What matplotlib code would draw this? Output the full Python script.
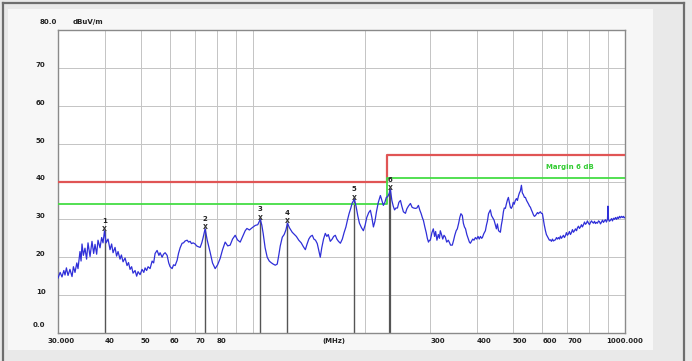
import matplotlib
matplotlib.use("Agg")
import matplotlib.pyplot as plt
from matplotlib.patches import Rectangle
from matplotlib.lines import Line2D
from matplotlib import transforms

# Measured field strength trace (MHz, dBuV/m)
freq_mhz = [
    30.0, 30.4, 30.75, 31.1, 31.33, 31.6, 31.92, 32.3, 32.72, 33.0,
    33.33, 33.7, 33.95, 34.37, 34.6, 34.8, 35.1, 35.45, 35.8, 36.12,
    36.57, 37.02, 37.4, 37.72, 38.1, 38.42, 38.9, 39.3, 39.63, 40.0,
    40.38, 40.88, 41.39, 41.8, 42.17, 42.69, 43.1, 43.49, 44.03, 44.4,
    44.86, 45.42, 45.98, 46.4, 46.85, 47.3, 47.72, 48.32, 48.8, 49.22,
    49.84, 50.46, 51.0, 51.41, 51.9, 52.37, 53.02, 53.69, 54.2, 54.69,
    55.37, 56.0, 56.41, 57.11, 57.6, 58.19, 58.91, 59.5, 60.01, 60.76,
    61.3, 61.9, 62.67, 63.2, 63.85, 64.63, 65.2, 65.84, 66.67, 67.3,
    67.92, 68.5, 69.19, 70.05, 70.7, 71.36, 72.26, 73.0, 73.61, 74.5,
    75.5, 76.87, 78.0, 79.29, 80.5, 81.79, 83.0, 84.36, 85.7, 87.0,
    88.3, 89.75, 91.0, 92.57, 94.0, 95.48, 96.5, 98.0, 99.7, 101.6,
    103.2, 104.8, 105.8, 106.7, 108.0, 109.4, 110.8, 112.0, 113.5, 115.0,
    116.4, 117.5, 118.6, 120.1, 121.5, 122.8, 124.0, 125.5, 127.7, 129.5,
    131.0, 133.0, 135.0, 136.8, 138.5, 140.0, 141.5, 143.0, 144.6, 146.0,
    147.5, 149.1, 150.5, 151.9, 153.3, 155.0, 156.7, 158.2, 159.6, 161.6,
    163.5, 165.0, 166.7, 168.3, 170.0, 172.0, 174.1, 176.0, 178.0, 179.6,
    181.5, 183.5, 185.0, 187.5, 189.5, 191.5, 193.5, 196.0, 198.3, 200.5,
    202.5, 205.0, 207.1, 209.0, 211.0, 213.0, 215.0, 217.5, 220.3, 222.3,
    224.4, 226.5, 228.5, 230.5, 232.5, 234.4, 236.5, 238.5, 240.5, 242.5,
    244.8, 247.0, 249.4, 251.5, 254.0, 257.2, 259.5, 262.0, 265.3, 268.0,
    270.5, 273.6, 276.0, 278.7, 281.0, 283.5, 285.5, 287.5, 290.0, 292.5,
    294.5, 296.6, 298.5, 300.0, 303.0, 305.6, 308.0, 310.0, 312.5, 315.2,
    317.5, 319.1, 321.5, 324.0, 326.5, 329.2, 332.0, 335.3, 338.0, 340.0,
    343.7, 346.5, 349.0, 352.0, 354.5, 357.5, 360.0, 362.5, 365.7, 368.0,
    370.5, 373.0, 376.0, 379.0, 382.0, 384.3, 387.0, 390.0, 393.0, 396.4,
    399.5, 403.0, 406.0, 409.0, 412.0, 414.0, 417.5, 421.7, 424.5, 427.0,
    430.0, 434.9, 438.0, 441.0, 445.0, 448.6, 451.5, 454.2, 457.5, 460.0,
    462.7, 465.5, 468.5, 471.4, 474.0, 477.2, 480.0, 483.5, 486.2, 489.0,
    492.2, 495.0, 498.4, 501.0, 504.0, 507.5, 511.0, 514.1, 517.5, 520.5,
    523.5, 527.0, 530.0, 533.5, 537.0, 540.2, 544.0, 547.5, 551.0, 554.0,
    557.1, 560.5, 563.5, 567.6, 571.0, 574.7, 578.5, 582.0, 585.4, 589.0,
    592.7, 596.0, 600.1, 603.5, 607.0, 611.4, 615.0, 618.8, 622.8, 626.5,
    630.6, 634.5, 638.5, 642.4, 646.5, 650.3, 654.5, 658.5, 663.0, 667.0,
    670.8, 675.0, 679.0, 683.4, 687.5, 691.9, 696.0, 700.6, 705.0, 709.0,
    713.7, 718.0, 722.5, 727.1, 731.5, 736.2, 741.0, 745.4, 750.0, 754.5,
    759.3, 764.0, 768.5, 773.6, 778.5, 783.2, 788.0, 792.5, 797.8, 803.0,
    807.8, 813.0, 818.0, 823.0, 828.0, 833.1, 838.0, 843.5, 849.0, 854.0,
    859.3, 865.0, 870.0, 875.4, 880.5, 886.2, 891.5, 897.3, 900.0, 903.0,
    908.5, 914.2, 920.0, 925.5, 931.3, 937.0, 943.0, 949.0, 954.8, 960.5,
    966.5, 972.7, 978.5, 985.0, 990.9, 995.0, 1000.0,
]
level_dbuv = [
    14.5, 16.0, 14.8, 16.5, 15.3, 17.2, 15.2, 16.8, 14.9, 17.5,
    16.0, 18.5, 17.0, 21.5, 19.0, 23.5, 20.5, 22.4, 19.5, 23.8,
    20.2, 24.2, 21.0, 23.4, 20.8, 24.5, 22.5, 25.2, 23.8, 27.0,
    23.8, 24.8, 22.0, 23.5, 21.2, 22.6, 20.3, 21.5, 19.5, 20.6,
    18.8, 19.8, 17.8, 18.6, 16.8, 17.5, 15.8, 16.5, 15.0, 16.2,
    15.4, 16.8, 16.0, 17.2, 16.5, 17.5, 17.0, 19.0, 18.5, 21.0,
    21.8, 20.5, 21.2, 20.0, 20.8, 21.2, 20.5, 18.5, 17.5, 17.0,
    18.0, 17.8, 19.2, 21.0, 22.5, 23.7, 23.8, 24.3, 24.5, 24.0,
    24.2, 23.6, 23.8, 23.5, 23.0, 22.8, 22.6, 23.8, 25.2, 27.5,
    24.5, 21.3, 18.5, 17.0, 18.0, 19.7, 22.0, 24.0, 23.0, 23.2,
    24.8, 25.8, 24.6, 24.0, 25.5, 27.0, 27.6, 27.2, 27.8, 28.4,
    28.6, 30.0, 28.5, 26.3, 22.5, 20.0, 19.0, 18.6, 18.2, 17.9,
    18.2, 20.5, 23.0, 25.3, 26.0, 27.2, 29.0, 27.8, 26.6, 26.0,
    25.5, 24.5, 23.8, 22.8, 22.0, 23.5, 24.8, 25.5, 25.8, 24.8,
    24.5, 23.6, 21.8, 20.0, 22.5, 24.8, 26.3, 25.5, 26.0, 24.2,
    24.8, 25.5, 25.8, 24.8, 24.2, 23.7, 24.8, 26.5, 28.0, 29.7,
    31.5, 33.0, 34.3, 35.3, 33.5, 31.0, 29.0, 27.8, 27.0, 28.5,
    30.5, 31.8, 32.4, 30.5, 28.0, 29.5, 32.0, 34.5, 36.3, 35.0,
    33.7, 34.5, 35.8, 36.0, 36.8, 37.8, 35.0, 33.5, 32.5, 33.0,
    33.0, 34.5, 35.0, 33.5, 32.0, 31.6, 32.8, 33.5, 34.2, 33.2,
    33.0, 32.9, 33.0, 33.7, 32.5, 31.5, 30.5, 29.7, 28.0, 26.5,
    25.0, 24.0, 24.5, 24.5, 26.5, 27.5, 25.5, 26.8, 24.5, 26.0,
    25.0, 27.0, 26.0, 24.8, 25.8, 25.3, 24.0, 24.5, 23.8, 23.2,
    23.2, 24.5, 25.8, 27.0, 27.5, 29.0, 30.5, 31.5, 31.0, 29.0,
    28.0, 27.5, 26.0, 25.0, 24.0, 23.7, 24.2, 24.8, 24.5, 25.2,
    24.8, 25.5, 24.8, 25.5, 25.0, 25.2, 26.2, 27.0, 28.5, 29.5,
    31.5, 32.5, 31.0, 30.5, 29.8, 28.5, 27.5, 28.8, 27.0, 26.8,
    26.6, 28.5, 30.0, 32.0, 33.0, 32.9, 34.0, 35.2, 35.8, 34.5,
    33.2, 32.9, 33.5, 34.5, 34.0, 35.0, 35.5, 35.0, 36.2, 37.0,
    37.5, 39.0, 37.0, 36.5, 35.8, 35.8, 35.0, 34.5, 34.0, 33.5,
    33.2, 32.5, 32.0, 31.2, 30.8, 31.0, 31.4, 31.8, 31.5, 31.8,
    32.0, 31.6, 31.5, 30.0, 28.5, 27.0, 26.0, 25.5, 25.0, 24.5,
    24.6, 24.2, 24.8, 24.3, 24.5, 24.6, 25.2, 24.8, 25.2, 24.8,
    25.6, 25.0, 25.4, 25.8, 25.2, 25.7, 26.5, 25.8, 26.2, 26.8,
    26.0, 26.5, 27.3, 26.6, 27.0, 27.5, 27.0, 27.8, 28.2, 27.6,
    28.0, 28.6, 28.0, 28.6, 29.3, 28.7, 29.0, 29.6, 29.0, 28.6,
    29.2, 29.6, 29.2, 29.0, 29.5, 28.9, 29.2, 29.0, 29.6, 29.4,
    28.8, 29.3, 29.8, 29.2, 29.6, 29.9, 29.3, 30.0, 33.5, 30.0,
    29.5, 29.8, 30.2, 29.6, 30.3, 30.0, 30.5, 30.0, 30.6, 30.2,
    30.8, 30.4, 30.8, 30.5, 30.8, 30.4, 30.5,
]

# Peak markers
marker_ids = ["1", "2", "3", "4", "5", "6"]
marker_freq = [40.0, 74.5, 104.8, 124.0, 187.5, 234.4]
marker_level = [27.0, 27.5, 30.0, 29.0, 35.3, 37.8]

# Limit line and limit minus margin
limit_freq = [30, 230, 230, 1000]
limit_level = [40, 40, 47, 47]
margin_level = [34, 34, 41, 41]

grid_freq = [30, 40, 50, 60, 70, 80, 90, 100, 200, 300, 400, 500, 600, 700, 800, 900, 1000]
xlabel_freq = [30, 40, 50, 60, 70, 80, 300, 400, 500, 600, 700, 1000]
xlabel_text = ["30.000", "40", "50", "60", "70", "80", "300", "400", "500", "600", "700", "1000.000"]
ytick_vals = [0, 10, 20, 30, 40, 50, 60, 70]
ytick_text = ["0.0", "10", "20", "30", "40", "50", "60", "70"]

W, H = 692, 361
fig = plt.figure(figsize=(W / 100, H / 100), dpi=100)
fig.patch.set_facecolor("#e9e9e9")

# panel background and frame
fig.patches.append(Rectangle((8 / W, 1 - 350 / H), 645 / W, 341 / H,
                             transform=fig.transFigure, facecolor="#f7f7f7",
                             edgecolor="none", zorder=-10))
fr = dict(transform=fig.transFigure, color="#6e6e6e", lw=1.6, zorder=-5)
fig.lines.append(Line2D([3 / W, 684 / W], [1 - 3 / H, 1 - 3 / H], **fr))
fig.lines.append(Line2D([3 / W, 3 / W], [0, 1 - 3 / H], **fr))
fig.lines.append(Line2D([684 / W, 684 / W], [0, 1 - 3 / H], **fr))

ax = fig.add_axes([58 / W, 1 - 333 / H, 567 / W, 303 / H])
ax.set_facecolor("white")
ax.set_xscale("log")
ax.set_xlim(30, 1000)
ax.set_ylim(0, 80)

for f in grid_freq:
    ax.axvline(f, color="#c4c4c4", lw=0.7, zorder=1)
for v in ytick_vals[1:]:
    ax.axhline(v, color="#c4c4c4", lw=0.7, zorder=1)

ax.set_xticks([])
ax.set_xticks([], minor=True)
ax.set_yticks([])
for s in ax.spines.values():
    s.set_color("#8a8a8a")
    s.set_linewidth(1.0)

fs = 5
tx = transforms.blended_transform_factory(ax.transData, ax.transAxes)
for f, t in zip(xlabel_freq, xlabel_text):
    ha = "center" if t in ("30.000", "1000.000") else "left"
    xf = f * 1.02 if t == "30.000" else f
    ax.text(xf, -0.025, t, transform=tx, ha=ha, va="center", fontsize=fs,
            fontweight="bold", color="#222222")
ax.text(165, -0.025, "(MHz)", transform=tx, ha="center", va="center",
        fontsize=fs, fontweight="bold", color="#222222")

ty = transforms.blended_transform_factory(ax.transAxes, ax.transData)
for v, t in zip(ytick_vals, ytick_text):
    yy = 2.2 if v == 0 else v + 0.8
    ax.text(-0.022, yy, t, transform=ty, ha="right", va="center", fontsize=fs,
            fontweight="bold", color="#222222")
ax.text(-0.001, 82.2, "80.0", transform=ty, ha="right", va="center",
        fontsize=fs, fontweight="bold", color="#222222", clip_on=False)
ax.text(0.025, 82.2, "dBuV/m", transform=ty, ha="left", va="center",
        fontsize=fs, fontweight="bold", color="#222222", clip_on=False)

# limit lines
ax.plot(limit_freq, limit_level, color="#e05555", lw=1.6, zorder=3)
ax.plot(limit_freq, margin_level, color="#44dd44", lw=1.3, zorder=3)
ax.text(713, 43.8, "Margin 6 dB", ha="center", va="center", fontsize=fs,
        fontweight="bold", color="#33cc33")

# marker stems
for i, (f, v) in enumerate(zip(marker_freq, marker_level)):
    lw = 1.6 if i == len(marker_freq) - 1 else 1.0
    ax.plot([f, f], [0, v], color="#555555", lw=lw, zorder=2)

# trace
ax.plot(freq_mhz, level_dbuv, color="#2f2fd8", lw=0.9, zorder=4)

for m, f, v in zip(marker_ids, marker_freq, marker_level):
    ax.text(f, v + 0.6, "x", ha="center", va="center", fontsize=5.5,
            fontweight="bold", color="#333333", zorder=5)
    ax.text(f, v + 2.7, m, ha="center", va="center", fontsize=fs,
            fontweight="bold", color="#222222", zorder=5)

fig.savefig("out.png", dpi=100, facecolor=fig.get_facecolor())
